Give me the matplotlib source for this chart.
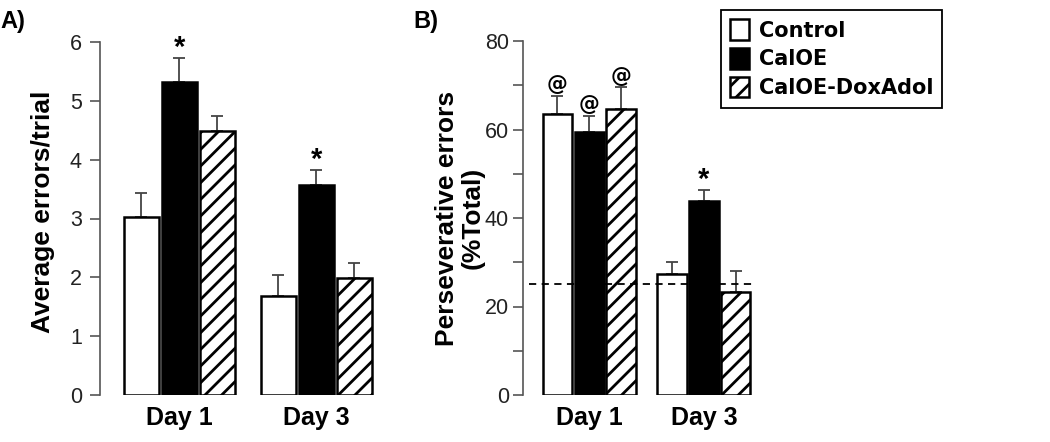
import matplotlib
matplotlib.use("Agg")
import matplotlib.pyplot as plt
import numpy as np

plt.rcParams['font.family'] = ['Liberation Sans', 'DejaVu Sans']
plt.rcParams['hatch.linewidth'] = 2.0
plt.rcParams['hatch.color'] = 'black'

days = ['Day 1', 'Day 3']
groups = ['Control', 'CalOE', 'CalOE-DoxAdol']

# panel A: average errors per trial
errors_mean = {'Control': [3.03, 1.68], 'CalOE': [5.32, 3.57], 'CalOE-DoxAdol': [4.49, 1.99]}
errors_sem = {'Control': [0.40, 0.36], 'CalOE': [0.41, 0.26], 'CalOE-DoxAdol': [0.26, 0.25]}
errors_mark = {'CalOE': ['*', '*']}

# panel B: perseverative errors, % of total
persev_mean = {'Control': [63.5, 27.3], 'CalOE': [59.4, 43.9], 'CalOE-DoxAdol': [64.6, 23.2]}
persev_sem = {'Control': [4.1, 2.8], 'CalOE': [3.7, 2.4], 'CalOE-DoxAdol': [5.0, 4.8]}
persev_mark = {'Control': ['@', ''], 'CalOE': ['@', '*'], 'CalOE-DoxAdol': ['@', '']}
chance = 25

styles = {
    'Control': dict(facecolor='white', hatch=None),
    'CalOE': dict(facecolor='black', hatch=None),
    'CalOE-DoxAdol': dict(facecolor='white', hatch='//'),
}

group_x = np.array([0.0, 3.6])
width = 0.92
axis_grey = '#555555'


def draw_panel(ax, means, sems, marks, ylim, major, minor):
    for i, g in enumerate(groups):
        x = group_x + (i - 1)
        ax.bar(x, means[g], width, edgecolor='black', linewidth=1.8,
               zorder=3, **styles[g], label=g)
        ax.errorbar(x, means[g], yerr=[np.zeros(2), sems[g]], fmt='none',
                    ecolor='#444444', elinewidth=1.3, capsize=4.5, capthick=1.3, zorder=2)
        for j, m in enumerate(marks.get(g, ['', ''])):
            if not m:
                continue
            if m == '*':
                ax.annotate(m, (x[j], means[g][j] + sems[g][j]), xytext=(0, -3),
                            textcoords='offset points', ha='center', va='bottom',
                            fontsize=21, fontweight='bold', annotation_clip=False)
            else:
                ax.annotate(m, (x[j], means[g][j] + sems[g][j]), xytext=(0, 1),
                            textcoords='offset points', ha='center', va='bottom',
                            fontsize=15, fontweight='bold', family='DejaVu Sans',
                            annotation_clip=False)
    ax.set_xlim(-2.08, 5.3)
    ax.set_ylim(*ylim)
    ax.set_yticks(major)
    ax.set_yticks(minor, minor=True)
    ax.set_xticks(group_x)
    ax.set_xticklabels(days, fontsize=18, fontweight='bold')
    ax.tick_params(axis='x', length=0, pad=8)
    for s in ['top', 'right', 'bottom']:
        ax.spines[s].set_visible(False)
    ax.spines['left'].set_color(axis_grey)
    ax.spines['left'].set_linewidth(1.2)


fig = plt.figure(figsize=(10.5, 4.42), dpi=100)

ax1 = fig.add_axes([100 / 1050, 47 / 442, 281 / 1050, 353 / 442])
draw_panel(ax1, errors_mean, errors_sem, errors_mark, (0, 6), np.arange(0, 7, 1), [])
ax1.tick_params(axis='y', length=7, width=1.2, color=axis_grey, pad=6, labelsize=15.5,
                labelcolor='#222222')
ax1.set_ylabel('Average errors/trial', fontsize=19, fontweight='bold')
ax1.yaxis.set_label_coords(-0.16, 0.52)

ax2 = fig.add_axes([523 / 1050, 47 / 442, 235 / 1050, 354 / 442])
draw_panel(ax2, persev_mean, persev_sem, persev_mark, (0, 80), np.arange(0, 81, 20),
           np.arange(10, 80, 20))
ax2.tick_params(axis='y', which='both', length=7, width=1.2, color=axis_grey, pad=3,
                labelsize=15.5, labelcolor='#222222')
ax2.axhline(chance, xmin=0.026, xmax=0.979, color='black', linestyle=(0, (4, 3)),
            linewidth=1.3, zorder=4)
ax2.set_ylabel('Perseverative errors\n(%Total)', fontsize=19, fontweight='bold',
               linespacing=1.05)
ax2.yaxis.set_label_coords(-0.165, 0.5)

handles, labels = ax2.get_legend_handles_labels()
leg = fig.legend(handles, labels, loc='upper left', bbox_to_anchor=(721 / 1050, 1 - 10 / 442),
                 prop=dict(family='DejaVu Sans', weight='bold', size=15),
                 frameon=True, fancybox=False, edgecolor='black', framealpha=1,
                 handlelength=0.9, handleheight=1.15, handletextpad=0.45,
                 labelspacing=0.35, borderpad=0.45, borderaxespad=0)
leg.get_frame().set_linewidth(1.3)

fig.text(0.0, 1 - 28 / 442, 'A)', fontsize=17, fontweight='bold', ha='left', va='baseline')
fig.text(413 / 1050, 1 - 28 / 442, 'B)', fontsize=17, fontweight='bold', ha='left', va='baseline')

fig.savefig('out.png', dpi=100)
